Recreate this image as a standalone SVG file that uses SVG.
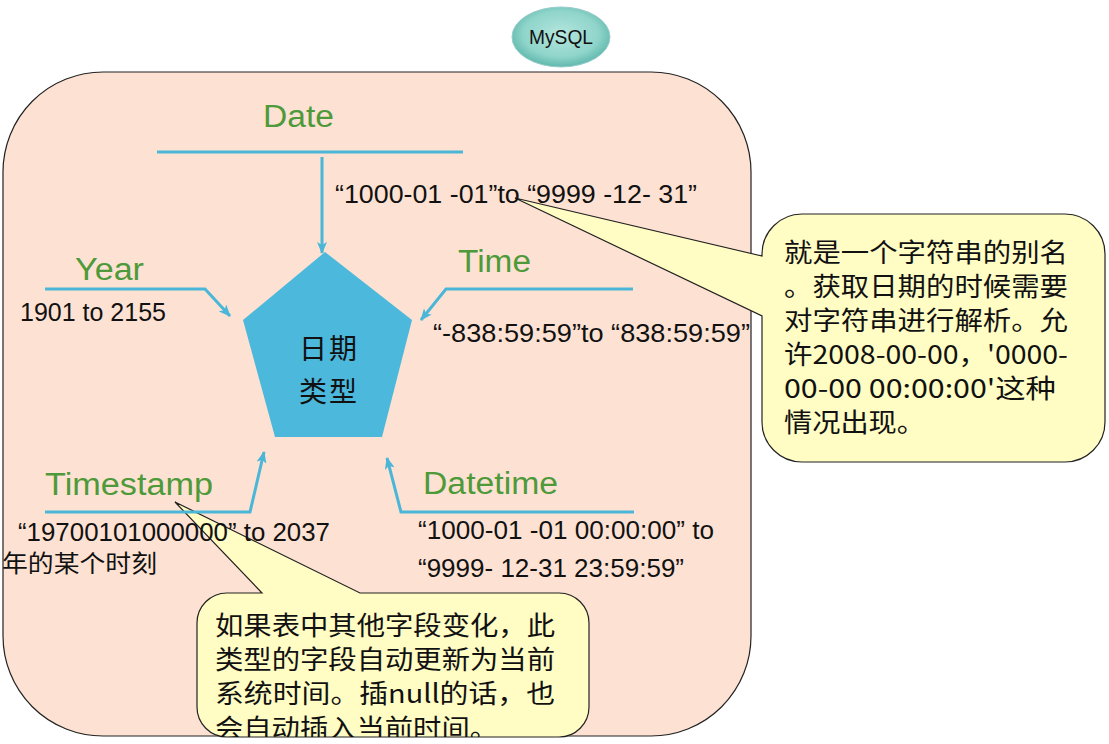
<svg xmlns="http://www.w3.org/2000/svg" width="1109" height="744" viewBox="0 0 1109 744">
<style>
.lat{font-family:"Liberation Sans",Arial,sans-serif;fill:#111}
.grn{font-family:"Liberation Sans",Arial,sans-serif;fill:#4e9a3a;font-size:31px}
.cjk{font-family:"Noto Sans CJK SC","Liberation Sans",sans-serif;fill:#111}
.conn{fill:none;stroke:#4ab6d8;stroke-width:3}
.call{fill:#fffcc4;stroke:#222;stroke-width:1.2}
</style>
<defs>
<radialGradient id="teal" cx="50%" cy="45%" r="55%">
<stop offset="0" stop-color="#b4e6de"/>
<stop offset="0.7" stop-color="#8fd4ca"/>
<stop offset="1" stop-color="#5fb8ac"/>
</radialGradient>
<marker id="ah" viewBox="0 0 12 10" refX="11" refY="5" markerWidth="12" markerHeight="10" markerUnits="userSpaceOnUse" orient="auto">
<path d="M0,0 L12,5 L0,10 L3,5 Z" fill="#4ab6d8"/>
</marker>
<clipPath id="c2clip"><rect x="197" y="560" width="393" height="177"/></clipPath>
</defs>

<g id="container">
<rect x="3" y="72" width="748" height="664" rx="100" ry="100" fill="#fde2d3" stroke="#222" stroke-width="1.2"/>
</g>

<g id="mysql">
<ellipse cx="561" cy="37" rx="49" ry="30" fill="url(#teal)" stroke="#9cc" stroke-width="1"/>
<text class="lat" x="561" y="44" font-size="20" text-anchor="middle" textLength="64" lengthAdjust="spacingAndGlyphs">MySQL</text>
</g>

<g id="callout-date">
<path class="call" d="M802,214 H1065 A40,40 0 0 1 1105,254 V422 A40,40 0 0 1 1065,462 H802 A40,40 0 0 1 762,422 V316 L515,198 L762,256 V254 A40,40 0 0 1 802,214 Z"/>
<text class="cjk" font-size="26">
<tspan x="784" y="262" textLength="284" lengthAdjust="spacingAndGlyphs">就是一个字符串的别名</tspan>
<tspan x="784" y="296" textLength="284" lengthAdjust="spacingAndGlyphs">。获取日期的时候需要</tspan>
<tspan x="784" y="330" textLength="284" lengthAdjust="spacingAndGlyphs">对字符串进行解析。允</tspan>
<tspan x="784" y="364" textLength="284" lengthAdjust="spacingAndGlyphs">许2008-00-00，'0000-</tspan>
<tspan x="784" y="398" textLength="272" lengthAdjust="spacingAndGlyphs">00-00 00:00:00'这种</tspan>
<tspan x="784" y="432" textLength="141" lengthAdjust="spacingAndGlyphs">情况出现。</tspan>
</text>
</g>

<g id="callout-timestamp">
<path class="call" d="M227,593 H262 L175,502 L360,593 H559 A30,30 0 0 1 589,623 V707 A30,30 0 0 1 559,737 H227 A30,30 0 0 1 197,707 V623 A30,30 0 0 1 227,593 Z"/>
<text class="cjk" font-size="26" clip-path="url(#c2clip)">
<tspan x="215" y="635" textLength="340" lengthAdjust="spacingAndGlyphs">如果表中其他字段变化，此</tspan>
<tspan x="215" y="669" textLength="340" lengthAdjust="spacingAndGlyphs">类型的字段自动更新为当前</tspan>
<tspan x="215" y="703" textLength="340" lengthAdjust="spacingAndGlyphs">系统时间。插null的话，也</tspan>
<tspan x="215" y="738" textLength="283" lengthAdjust="spacingAndGlyphs">会自动插入当前时间。</tspan>
</text>
</g>

<g id="connectors">
<line class="conn" x1="157" y1="152" x2="463" y2="152"/>
<line class="conn" x1="322" y1="157" x2="322" y2="253" marker-end="url(#ah)"/>
<polyline class="conn" points="45,289 205,289 230,316" marker-end="url(#ah)"/>
<polyline class="conn" points="633,289 446,289 421,320" marker-end="url(#ah)"/>
<polyline class="conn" points="45,512 250,512 264,452" marker-end="url(#ah)"/>
<polyline class="conn" points="634,512 401,512 387,458" marker-end="url(#ah)"/>
</g>

<g id="pentagon">
<polygon points="325,252 412,320 382,437 275,437 243,320" fill="#4bb8dc"/>
<text class="cjk" x="299" y="359" font-size="28" letter-spacing="2">日期</text>
<text class="cjk" x="299" y="402" font-size="28" letter-spacing="2">类型</text>
</g>

<g id="date">
<text class="grn" x="263" y="127" textLength="71" lengthAdjust="spacingAndGlyphs">Date</text>
<text class="lat" x="335" y="203" font-size="26" textLength="362" lengthAdjust="spacingAndGlyphs">“1000-01 -01”to “9999 -12- 31”</text>
</g>

<g id="year">
<text class="grn" x="75" y="280" textLength="69" lengthAdjust="spacingAndGlyphs">Year</text>
<text class="lat" x="20" y="321" font-size="25" textLength="146" lengthAdjust="spacingAndGlyphs">1901 to 2155</text>
</g>

<g id="time">
<text class="grn" x="458" y="272" textLength="73" lengthAdjust="spacingAndGlyphs">Time</text>
<text class="lat" x="433" y="342" font-size="26" textLength="317" lengthAdjust="spacingAndGlyphs">“-838:59:59”to “838:59:59”</text>
</g>

<g id="timestamp">
<text class="grn" x="45" y="495" textLength="168" lengthAdjust="spacingAndGlyphs">Timestamp</text>
<text class="lat" x="18" y="541" font-size="26" textLength="312" lengthAdjust="spacingAndGlyphs">“19700101000000” to 2037</text>
<text class="cjk" x="2" y="572" font-size="24" textLength="155" lengthAdjust="spacingAndGlyphs">年的某个时刻</text>
</g>

<g id="datetime">
<text class="grn" x="423" y="494" textLength="135" lengthAdjust="spacingAndGlyphs">Datetime</text>
<text class="lat" x="418" y="539" font-size="26" textLength="296" lengthAdjust="spacingAndGlyphs">“1000-01 -01 00:00:00” to</text>
<text class="lat" x="418" y="577" font-size="26" textLength="266" lengthAdjust="spacingAndGlyphs">“9999- 12-31 23:59:59”</text>
</g>
</svg>
